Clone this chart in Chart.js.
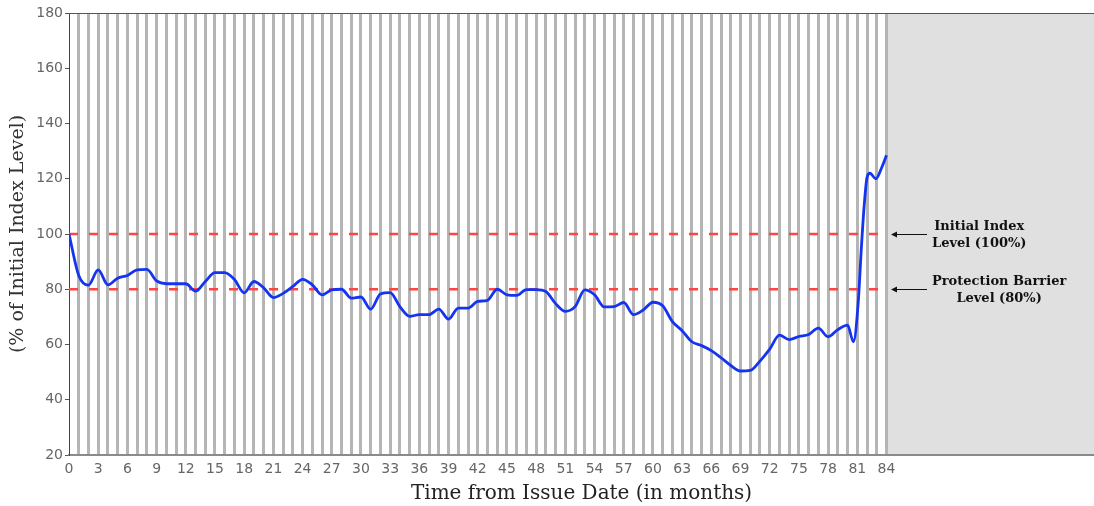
<!DOCTYPE html>
<html>
<head>
<meta charset="utf-8">
<script src="https://cdn.jsdelivr.net/npm/chart.js@4/dist/chart.umd.min.js"></script>
<style>
  html, body { margin: 0; padding: 0; background: #fff; }
  #wrap { width: 1094px; height: 506px; }
</style>
</head>
<body>
<div id="wrap"><canvas id="chart"></canvas></div>
<script>
// index level, % of initial (months from issue)
let months = [0, 1, 2, 3, 4, 5, 6, 7, 8, 9, 10, 11, 12, 13, 14, 15, 16, 17, 18, 19, 20,
  21, 22, 23, 24, 25, 26, 27, 28, 29, 30, 31, 32, 33, 34, 35, 36, 37, 38, 39, 40,
  41, 42, 43, 44, 45, 46, 47, 48, 49, 50, 51, 52, 53, 54, 55, 56, 57, 58, 59, 60,
  61, 62, 63, 64, 65, 66, 67, 68, 69, 70, 71, 72, 73, 74, 75, 76, 77, 78, 79, 80,
  80.6, 81.1, 81.4, 81.7, 82, 82.3, 82.9, 83.5, 84];
let indexLevel = [100, 85, 81.5, 87, 81.6, 84, 85, 87, 87.2, 83, 82, 82, 82, 79.3, 82.8, 86, 86, 83.5, 78.7, 82.8, 80.5,
  77, 78.5, 81, 83.6, 81.6, 78, 79.8, 80, 76.8, 77.2, 72.8, 78.3, 78.8, 73.7, 70.2, 70.8, 70.8, 72.8, 69.2, 73.2,
  73.2, 75.6, 76, 80, 78, 77.8, 79.9, 79.9, 79.2, 74.8, 72, 73.7, 79.8, 78, 73.6, 73.7, 75.2, 70.8, 72.5, 75.3,
  74, 68.3, 65, 61, 59.6, 57.8, 55.2, 52.4, 50.4, 50.6, 54, 58.3, 63.4, 61.8, 62.9, 63.6, 65.9, 62.8, 65.4, 67,
  61, 75.5, 94, 110, 120.5, 122, 120, 124, 128.5];

let initialLevel = 100;
let barrierLevel = 80;
let lastMonth = 84;
let xLabelStep = 3;
let yTicks = [20, 40, 60, 80, 100, 120, 140, 160, 180];

let tickMonths = [];
for (let m = 0; m <= lastMonth; m++) tickMonths.push(m);

let notes = [
  { level: initialLevel, lines: ['Initial Index', 'Level (100%)'] },
  { level: barrierLevel, lines: ['Protection Barrier', 'Level (80%)'] }
];

var sideNotes = {
  id: 'sideNotes',
  beforeDraw(chart) {
    var ctx = chart.ctx, a = chart.chartArea, x = chart.scales.x;
    var x84 = x.getPixelForValue(lastMonth);
    ctx.save();
    ctx.fillStyle = '#e0e0e0';
    ctx.fillRect(x84, a.top, a.right - x84, a.bottom - a.top);
    ctx.restore();
  },
  afterDraw(chart) {
    var ctx = chart.ctx, a = chart.chartArea, y = chart.scales.y;
    ctx.save();
    // top frame line
    ctx.strokeStyle = '#555';
    ctx.lineWidth = 1;
    ctx.beginPath();
    ctx.moveTo(a.left, a.top + 0.5);
    ctx.lineTo(a.right, a.top + 0.5);
    ctx.stroke();

    ctx.font = 'bold 13px "DejaVu Serif"';
    ctx.fillStyle = '#111';
    ctx.textBaseline = 'middle';
    ctx.textAlign = 'center';
    notes.forEach(function (n) {
      var py = Math.round(y.getPixelForValue(n.level)) + 0.5;
      ctx.strokeStyle = '#111';
      ctx.beginPath();
      ctx.moveTo(895, py);
      ctx.lineTo(927, py);
      ctx.stroke();
      ctx.beginPath();
      ctx.moveTo(891, py);
      ctx.lineTo(897, py - 3);
      ctx.lineTo(897, py + 3);
      ctx.closePath();
      ctx.fill();
      var w = Math.max.apply(null, n.lines.map(function (s) { return ctx.measureText(s).width; }));
      var cx = 932 + w / 2;
      ctx.fillText(n.lines[0], cx, py - 8);
      ctx.fillText(n.lines[1], cx, py + 9);
    });
    ctx.restore();
  }
};

var chart = new Chart(document.getElementById('chart'), {
  type: 'line',
  data: {
    datasets: [{
      data: months.map(function (m, i) { return { x: m, y: indexLevel[i] }; }),
      borderColor: '#1434f0',
      borderWidth: 2.8,
      pointRadius: 0,
      cubicInterpolationMode: 'monotone',
      fill: false
    }, {
      data: [{ x: 0, y: initialLevel }, { x: lastMonth, y: initialLevel }],
      borderColor: '#ff4444',
      borderWidth: 2.5,
      borderDash: [9, 11],
      pointRadius: 0
    }, {
      data: [{ x: 0, y: barrierLevel }, { x: lastMonth, y: barrierLevel }],
      borderColor: '#ff4444',
      borderWidth: 2.5,
      borderDash: [9, 11],
      pointRadius: 0
    }]
  },
  options: {
    responsive: true,
    maintainAspectRatio: false,
    animation: false,
    events: [],
    layout: { padding: { top: 13, right: 0, left: 0, bottom: 0 } },
    plugins: { legend: { display: false }, tooltip: { enabled: false } },
    scales: {
      x: {
        type: 'linear',
        min: 0,
        max: 105.32,
        afterBuildTicks: function (s) { s.ticks = tickMonths.map(function (v) { return { value: v }; }); },
        afterFit: function (s) { s.height = 51; },
        ticks: {
          autoSkip: false,
          maxRotation: 0,
          padding: 2,
          color: '#666',
          font: { family: 'DejaVu Sans', size: 14 },
          callback: function (v) { return v % xLabelStep === 0 ? String(v) : ''; }
        },
        grid: {
          drawOnChartArea: true,
          tickLength: 4,
          lineWidth: 3,
          tickColor: 'transparent',
          color: function (c) {
            return c.tick && c.tick.value >= 1 && c.tick.value <= lastMonth ? '#b5b5b5' : 'transparent';
          }
        },
        border: { color: '#8a8a8a', width: 2 },
        title: {
          display: true,
          text: 'Time from Issue Date (in months)',
          color: '#222',
          font: { family: 'DejaVu Serif', size: 20 },
          padding: { top: 2, bottom: 0 }
        }
      },
      y: {
        min: 20,
        max: 180,
        afterBuildTicks: function (s) { s.ticks = yTicks.map(function (v) { return { value: v }; }); },
        afterFit: function (s) { s.width = 69; },
        ticks: {
          padding: 2,
          color: '#666',
          font: { family: 'DejaVu Sans', size: 14 }
        },
        grid: { drawOnChartArea: false, tickLength: 4, color: '#555' },
        border: { color: '#444', width: 1 },
        title: {
          display: true,
          text: '(% of Initial Index Level)',
          color: '#333',
          font: { family: 'DejaVu Serif', size: 19 },
          padding: { top: 7, bottom: 0 }
        }
      }
    }
  },
  plugins: [sideNotes]
});
</script>
</body>
</html>
